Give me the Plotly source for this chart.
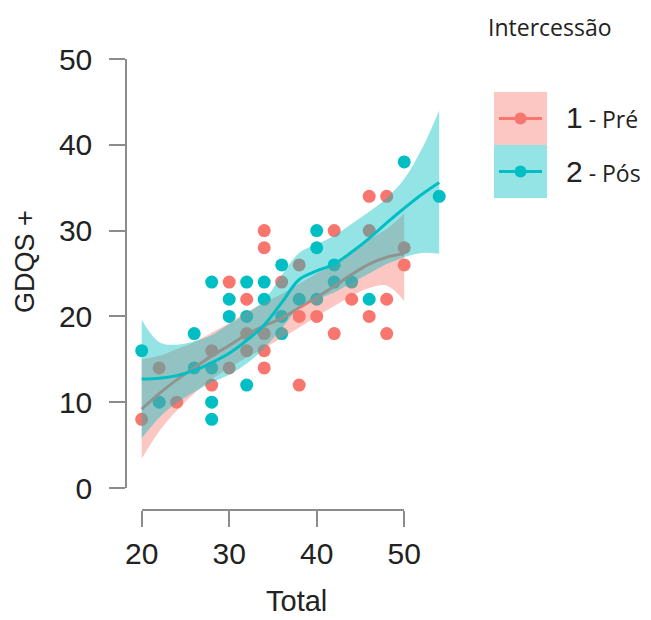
import plotly.graph_objects as go

# ---------------- data ----------------
group_codes = ["1", "2"]
group_names = ["- Pré", "- Pós"]
legend_title = "Intercessão"
x_title = "Total"
y_title = "GDQS +"
x_ticks = [20, 30, 40, 50]
y_ticks = [0, 10, 20, 30, 40, 50]

pre_x = [20, 22, 24, 28, 28, 30, 30, 32, 32, 32, 34, 34, 34, 34, 34, 36, 38, 38, 38,
         40, 42, 42, 44, 46, 46, 46, 48, 48, 48, 50, 50]
pre_y = [8, 14, 10, 16, 12, 24, 14, 22, 18, 16, 30, 28, 18, 16, 14, 24, 26, 20, 12,
         20, 30, 18, 22, 34, 30, 20, 34, 22, 18, 28, 26]

pos_x = [20, 22, 26, 26, 28, 28, 28, 28, 30, 30, 32, 32, 32, 34, 34, 36, 36, 36, 38,
         40, 40, 40, 42, 42, 44, 46, 50, 54]
pos_y = [16, 10, 18, 14, 24, 14, 10, 8, 22, 20, 24, 20, 12, 24, 22, 26, 20, 18, 22,
         30, 28, 22, 26, 24, 24, 22, 38, 34]

# smoothed fits (loess) and confidence bands
pre_sx = [20, 22, 24, 26, 28, 30, 32, 34, 36, 38, 40, 42, 44, 46, 48, 50]
pre_fit = [9.2, 11.0, 12.6, 14.0, 15.4, 16.6, 17.9, 18.9, 19.8, 21.0, 22.2, 23.5, 24.9, 26.1, 26.9, 27.3]
pre_lo = [3.4, 6.6, 9.0, 11.0, 12.7, 14.0, 15.2, 16.3, 17.5, 18.7, 20.0, 21.2, 22.4, 23.3, 23.6, 21.8]
pre_hi = [15.0, 15.4, 16.2, 17.0, 18.1, 19.2, 20.5, 21.6, 22.6, 23.8, 25.0, 26.2, 27.6, 29.0, 30.2, 32.0]

pos_sx = [20, 22, 24, 26, 28, 30, 32, 34, 36, 38, 40, 42, 44, 46, 48, 50, 52, 54]
pos_fit = [12.7, 12.8, 13.1, 13.7, 14.6, 15.7, 17.2, 19.0, 21.6, 24.3, 25.3, 26.1, 27.5, 29.1, 30.9, 32.6, 34.2, 35.6]
pos_lo = [5.8, 8.2, 9.9, 11.2, 12.3, 13.2, 14.5, 16.3, 18.6, 21.0, 22.0, 22.8, 23.9, 25.0, 26.1, 26.9, 27.4, 27.3]
pos_hi = [19.6, 17.0, 16.7, 17.1, 17.8, 19.1, 20.3, 21.9, 24.8, 27.4, 28.4, 29.4, 30.8, 32.2, 33.8, 36.0, 39.5, 44.0]

# ---------------- style ----------------
RED = "#F8766D"
TEAL = "#00BFC4"
RED_BAND = "rgba(248,118,109,0.42)"
TEAL_BAND = "rgba(0,191,196,0.42)"
AXIS_COL = "#8c8c8c"
TEXT_COL = "#222222"

OFF = 8  # page body margin
W, H = 651 - OFF, 620 - OFF
L, T = 126 - OFF, 55 - OFF
PR, PB = 455 - OFF, 510 - OFF      # right / bottom edge of plot area (figure px)
R, B = W - PR, H - PB
PW = PR - L
PH = PB - T

def px_x(px):
    return (px - OFF - L) / PW

def px_y(py):
    return (PB - (py - OFF)) / PH

fig = go.Figure()

# points
fig.add_trace(go.Scatter(x=pre_x, y=pre_y, mode="markers", cliponaxis=False,
                         marker=dict(color=RED, size=13, line=dict(width=0)),
                         showlegend=False, hoverinfo="skip"))
fig.add_trace(go.Scatter(x=pos_x, y=pos_y, mode="markers", cliponaxis=False,
                         marker=dict(color=TEAL, size=13, line=dict(width=0)),
                         showlegend=False, hoverinfo="skip"))

# group 1 band + line
fig.add_trace(go.Scatter(x=pre_sx, y=pre_lo, mode="lines", line=dict(width=0, shape="spline"),
                         showlegend=False, hoverinfo="skip"))
fig.add_trace(go.Scatter(x=pre_sx, y=pre_hi, mode="lines", line=dict(width=0, shape="spline"),
                         fill="tonexty", fillcolor=RED_BAND, showlegend=False, hoverinfo="skip"))
fig.add_trace(go.Scatter(x=pre_sx, y=pre_fit, mode="lines", line=dict(width=3, color=RED, shape="spline"),
                         showlegend=False, hoverinfo="skip"))

# group 2 band + line
fig.add_trace(go.Scatter(x=pos_sx, y=pos_lo, mode="lines", line=dict(width=0, shape="spline"),
                         showlegend=False, hoverinfo="skip"))
fig.add_trace(go.Scatter(x=pos_sx, y=pos_hi, mode="lines", line=dict(width=0, shape="spline"),
                         fill="tonexty", fillcolor=TEAL_BAND, showlegend=False, hoverinfo="skip"))
fig.add_trace(go.Scatter(x=pos_sx, y=pos_fit, mode="lines", line=dict(width=3, color=TEAL, shape="spline"),
                         showlegend=False, hoverinfo="skip"))

# empty trace to host the visible range-frame axes
fig.add_trace(go.Scatter(x=[], y=[], xaxis="x2", yaxis="y2", showlegend=False, hoverinfo="skip"))

# main data axes (invisible); pixel scale matched to the visible axes
x_px0, x_px1 = 141.7, 404.2   # screen px of first/last x tick
y_px0, y_px1 = 488.0, 59.0    # screen px of first/last y tick
xs = (x_px1 - x_px0) / (x_ticks[-1] - x_ticks[0])
ys = (y_px0 - y_px1) / (y_ticks[-1] - y_ticks[0])
x_rng = [x_ticks[0] - (x_px0 - OFF - L) / xs, x_ticks[0] + (PR - (x_px0 - OFF)) / xs]
y_rng = [y_ticks[0] - (PB - (y_px0 - OFF)) / ys, y_ticks[0] + ((y_px0 - OFF) - T) / ys]

axis_common = dict(showline=True, linecolor=AXIS_COL, linewidth=1.5, ticks="outside",
                   ticklen=16, tickwidth=1.5, tickcolor=AXIS_COL, showgrid=False,
                   zeroline=False, fixedrange=True,
                   tickfont=dict(size=30, color=TEXT_COL, family="Liberation Sans, Arial, sans-serif"))

fig.update_layout(
    width=W, height=H,
    margin=dict(l=L, r=R, t=T, b=B),
    paper_bgcolor="white", plot_bgcolor="rgba(0,0,0,0)",
    font=dict(family="Liberation Sans, Arial, sans-serif", color=TEXT_COL),
    xaxis=dict(domain=[0, 1], range=x_rng, visible=False, fixedrange=True),
    yaxis=dict(domain=[0, 1], range=y_rng, visible=False, fixedrange=True),
    xaxis2=dict(domain=[px_x(x_px0), px_x(x_px1)], range=[x_ticks[0], x_ticks[-1]],
                anchor="free", position=0, tickvals=x_ticks, ticklabelstandoff=1, **axis_common),
    yaxis2=dict(domain=[px_y(y_px0), px_y(y_px1)], range=[y_ticks[0], y_ticks[-1]],
                anchor="free", position=0, tickvals=y_ticks, ticklabelstandoff=11, **axis_common),
    showlegend=False,
)

annotations = []
shapes = []

# axis titles
annotations.append(dict(text=x_title, xref="paper", yref="paper", x=px_x(296), y=px_y(601),
                        xanchor="center", yanchor="middle", showarrow=False,
                        font=dict(size=29, color=TEXT_COL, family="Liberation Sans, Arial, sans-serif")))
annotations.append(dict(text=y_title, xref="paper", yref="paper", x=px_x(25), y=px_y(262),
                        xanchor="center", yanchor="middle", showarrow=False, textangle=-90,
                        font=dict(size=27, color=TEXT_COL, family="Liberation Sans, Arial, sans-serif")))

# legend (drawn manually)
annotations.append(dict(text=legend_title, xref="paper", yref="paper", x=px_x(486), y=px_y(27),
                        xanchor="left", yanchor="middle", showarrow=False,
                        font=dict(size=23, color=TEXT_COL, family="Open Sans, Noto Sans, sans-serif")))

band_cols = [RED_BAND, TEAL_BAND]
line_cols = [RED, TEAL]
key_top = 92
key_h = 53
for i, (code, name) in enumerate(zip(group_codes, group_names)):
    y0 = key_top + i * key_h
    yc = y0 + key_h / 2
    shapes.append(dict(type="rect", xref="paper", yref="paper",
                       x0=px_x(494), x1=px_x(547), y0=px_y(y0 + key_h), y1=px_y(y0),
                       fillcolor=band_cols[i], line=dict(width=0), layer="above"))
    shapes.append(dict(type="line", xref="paper", yref="paper",
                       x0=px_x(499), x1=px_x(542), y0=px_y(yc), y1=px_y(yc),
                       line=dict(color=line_cols[i], width=3), layer="above"))
    r = 6
    shapes.append(dict(type="circle", xref="paper", yref="paper",
                       x0=px_x(520.5 - r), x1=px_x(520.5 + r), y0=px_y(yc + r), y1=px_y(yc - r),
                       fillcolor=line_cols[i], line=dict(width=0), layer="above"))
    txt = ("<span style='font-family:Liberation Sans, Arial, sans-serif;font-size:30px'>" + code +
           "</span><span style='font-family:Open Sans, Noto Sans, sans-serif;font-size:23px'> " +
           name + "</span>")
    annotations.append(dict(text=txt, xref="paper", yref="paper", x=px_x(564), y=px_y(yc),
                            xanchor="left", yanchor="middle", showarrow=False,
                            font=dict(size=30, color=TEXT_COL)))

fig.update_layout(annotations=annotations, shapes=shapes)

fig.write_html("out.html")
